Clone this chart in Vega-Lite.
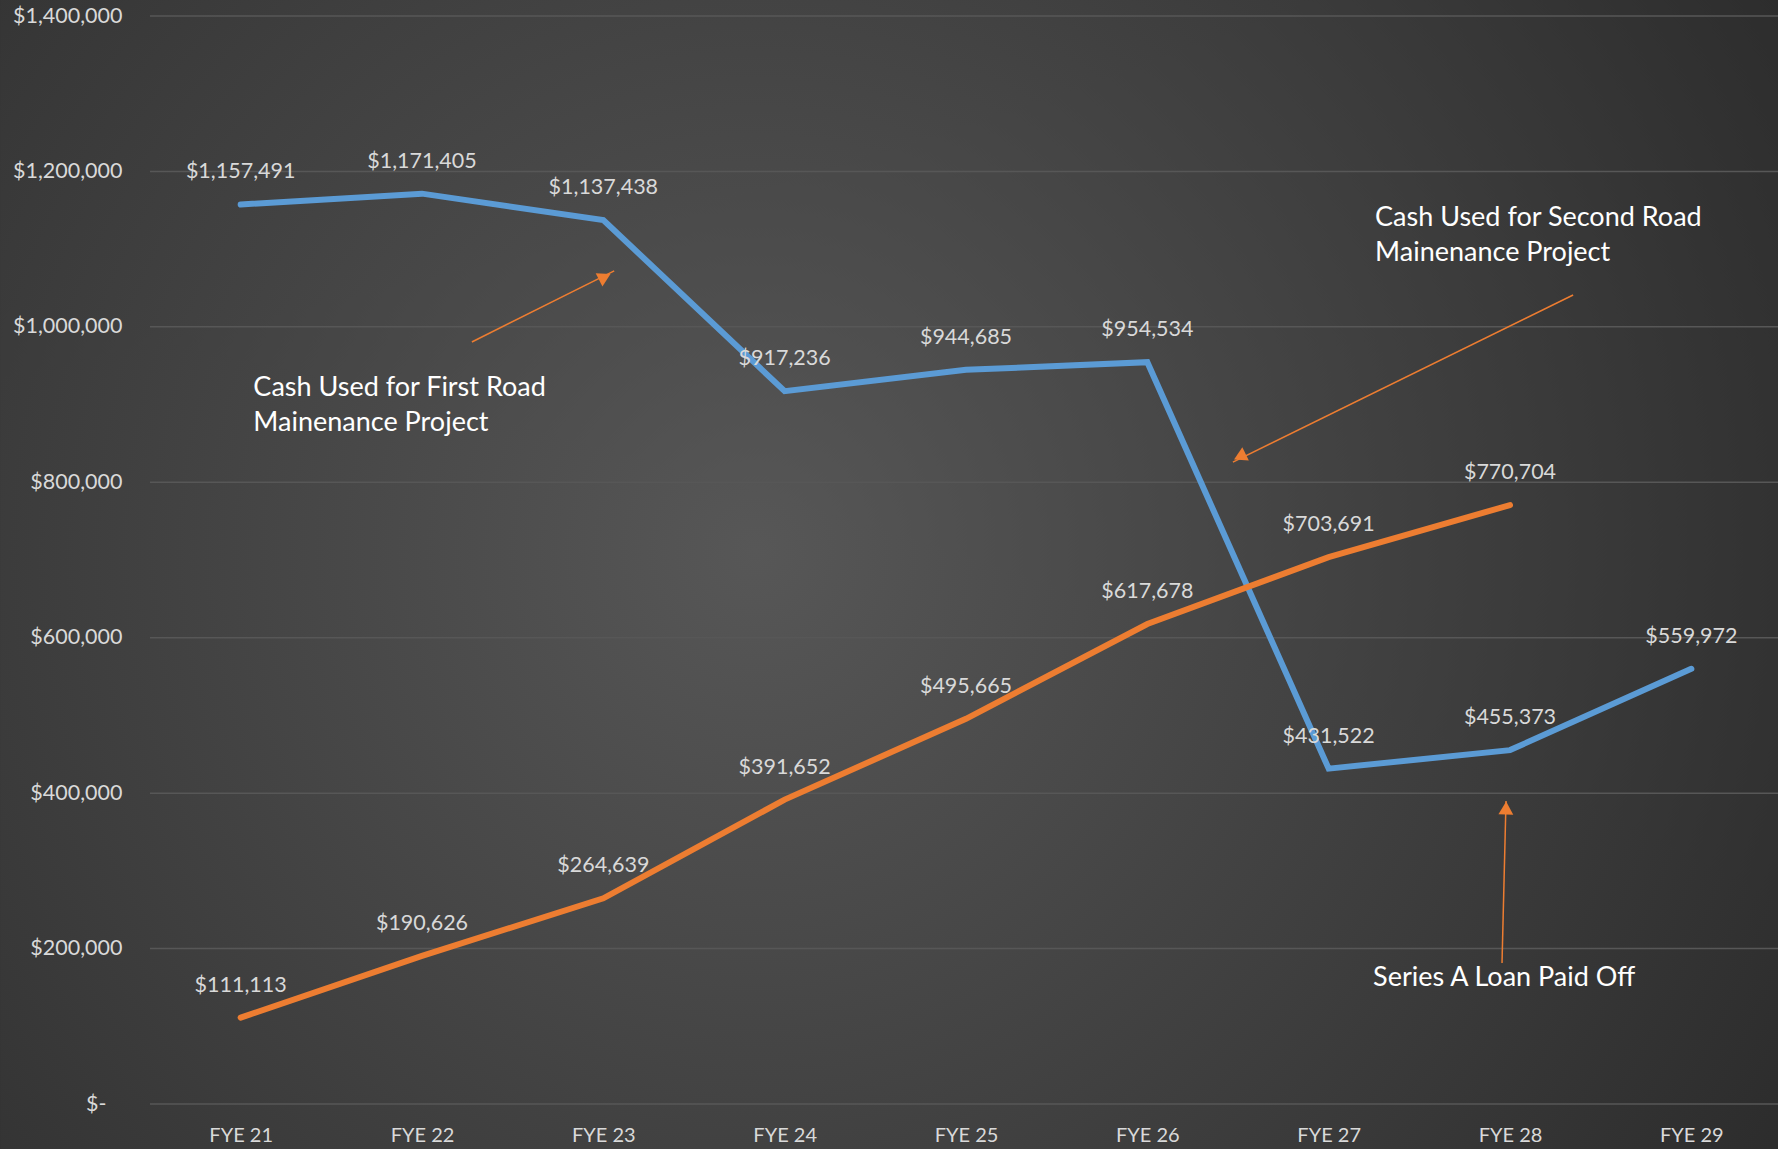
{
  "$schema": "https://vega.github.io/schema/vega-lite/v6.json",
  "width": 1632,
  "height": 1088,
  "autosize": {"type": "none"},
  "padding": {"left": 150, "top": 16, "right": 0, "bottom": 45},
  "background": "#282828",
  "config": {
    "view": {"stroke": null},
    "font": "Lato",
    "text": {"font": "Lato"}
  },
  "datasets": {
    "series": [
      {"fy": 21, "series": "Cash", "value": 1157491},
      {"fy": 22, "series": "Cash", "value": 1171405},
      {"fy": 23, "series": "Cash", "value": 1137438},
      {"fy": 24, "series": "Cash", "value": 917236},
      {"fy": 25, "series": "Cash", "value": 944685},
      {"fy": 26, "series": "Cash", "value": 954534},
      {"fy": 27, "series": "Cash", "value": 431522},
      {"fy": 28, "series": "Cash", "value": 455373},
      {"fy": 29, "series": "Cash", "value": 559972},
      {"fy": 21, "series": "Loan", "value": 111113},
      {"fy": 22, "series": "Loan", "value": 190626},
      {"fy": 23, "series": "Loan", "value": 264639},
      {"fy": 24, "series": "Loan", "value": 391652},
      {"fy": 25, "series": "Loan", "value": 495665},
      {"fy": 26, "series": "Loan", "value": 617678},
      {"fy": 27, "series": "Loan", "value": 703691},
      {"fy": 28, "series": "Loan", "value": 770704}
    ],
    "ticks": [
      {"value": 0}, {"value": 200000}, {"value": 400000}, {"value": 600000},
      {"value": 800000}, {"value": 1000000}, {"value": 1200000}, {"value": 1400000}
    ],
    "notes": [
      {"fy": 21.07, "value": 921310, "label": "Cash Used for First Road"},
      {"fy": 21.07, "value": 876270, "label": "Mainenance Project"},
      {"fy": 27.256, "value": 1140070, "label": "Cash Used for Second Road"},
      {"fy": 27.256, "value": 1095030, "label": "Mainenance Project"},
      {"fy": 27.245, "value": 162100, "label": "Series A Loan Paid Off"}
    ],
    "arrows": [
      {"fy": 22.275, "value": 980500, "fy2": 23.06, "value2": 1072000},
      {"fy": 28.348, "value": 1040980, "fy2": 26.472, "value2": 826000},
      {"fy": 27.956, "value": 181400, "fy2": 27.978, "value2": 389900}
    ],
    "heads": [
      {"arrow": "first", "fy": 23.008, "value": 1064150},
      {"arrow": "second", "fy": 26.51, "value": 833000},
      {"arrow": "loan", "fy": 27.978, "value": 380850}
    ],
    "backdrop": [
      {"fy": 19.673, "fy2": 29.52, "value": -58000, "value2": 1421000}
    ]
  },
  "layer": [
    {
      "data": {"name": "backdrop"},
      "mark": {
        "type": "rect",
        "fill": {
          "gradient": "radial",
          "x1": 0.423, "y1": 0.487, "r1": 0,
          "x2": 0.423, "y2": 0.487, "r2": 0.745,
          "stops": [
            {"offset": 0, "color": "#575757"},
            {"offset": 1, "color": "#272727"}
          ]
        }
      },
      "encoding": {
        "x": {"field": "fy", "type": "quantitative"},
        "x2": {"field": "fy2"},
        "y": {"field": "value", "type": "quantitative"},
        "y2": {"field": "value2"}
      }
    },
    {
      "data": {"name": "ticks"},
      "mark": {"type": "rule", "color": "#575757", "strokeWidth": 1.5},
      "encoding": {
        "y": {"field": "value", "type": "quantitative"}
      }
    },
    {
      "data": {"name": "series"},
      "mark": {"type": "line", "strokeWidth": 6, "strokeCap": "round", "strokeJoin": "miter"},
      "encoding": {
        "x": {
          "field": "fy", "type": "quantitative",
          "scale": {"domain": [20.5, 29.5], "nice": false, "zero": false},
          "axis": {
            "values": [21, 22, 23, 24, 25, 26, 27, 28, 29],
            "labelExpr": "'FYE ' + datum.value",
            "title": null, "grid": false, "domain": false, "ticks": false,
            "labelFontSize": 20, "labelColor": "#d9d9d9", "labelPadding": 21,
            "labelFont": "Lato", "zindex": 1
          }
        },
        "y": {
          "field": "value", "type": "quantitative",
          "scale": {"domain": [0, 1400000], "nice": false},
          "axis": {
            "values": [0, 200000, 400000, 600000, 800000, 1000000, 1200000, 1400000],
            "labelExpr": "datum.value == 0 ? '$-\u2800' : '$' + format(datum.value, ',')",
            "title": null, "domain": false, "ticks": false, "grid": false,
            "labelFontSize": 21.5, "labelColor": "#d9d9d9", "labelPadding": 28,
            "labelFont": "Lato", "zindex": 1
          }
        },
        "color": {
          "field": "series", "type": "nominal",
          "scale": {"domain": ["Cash", "Loan"], "range": ["#5B9BD5", "#ED7D31"]},
          "legend": null
        }
      }
    },
    {
      "data": {"name": "series"},
      "mark": {"type": "text", "dy": -32, "fontSize": 21.5, "color": "#d9d9d9", "baseline": "middle", "align": "center"},
      "encoding": {
        "x": {"field": "fy", "type": "quantitative"},
        "y": {"field": "value", "type": "quantitative"},
        "text": {"field": "value", "type": "quantitative", "format": "$,"}
      }
    },
    {
      "data": {"name": "arrows"},
      "mark": {"type": "rule", "color": "#ED7D31", "strokeWidth": 1.5},
      "encoding": {
        "x": {"field": "fy", "type": "quantitative"},
        "y": {"field": "value", "type": "quantitative"},
        "x2": {"field": "fy2"},
        "y2": {"field": "value2"}
      }
    },
    {
      "data": {"name": "heads"},
      "transform": [{"filter": "datum.arrow == 'first'"}],
      "mark": {"type": "point", "shape": "triangle-up", "filled": true, "color": "#ED7D31", "opacity": 1, "size": 220, "angle": 63},
      "encoding": {
        "x": {"field": "fy", "type": "quantitative"},
        "y": {"field": "value", "type": "quantitative"}
      }
    },
    {
      "data": {"name": "heads"},
      "transform": [{"filter": "datum.arrow == 'second'"}],
      "mark": {"type": "point", "shape": "triangle-up", "filled": true, "color": "#ED7D31", "opacity": 1, "size": 220, "angle": 244},
      "encoding": {
        "x": {"field": "fy", "type": "quantitative"},
        "y": {"field": "value", "type": "quantitative"}
      }
    },
    {
      "data": {"name": "heads"},
      "transform": [{"filter": "datum.arrow == 'loan'"}],
      "mark": {"type": "point", "shape": "triangle-up", "filled": true, "color": "#ED7D31", "opacity": 1, "size": 220, "angle": 1.5},
      "encoding": {
        "x": {"field": "fy", "type": "quantitative"},
        "y": {"field": "value", "type": "quantitative"}
      }
    },
    {
      "data": {"name": "notes"},
      "mark": {"type": "text", "fontSize": 27, "color": "#ffffff", "align": "left", "baseline": "middle"},
      "encoding": {
        "x": {"field": "fy", "type": "quantitative"},
        "y": {"field": "value", "type": "quantitative"},
        "text": {"field": "label"}
      }
    }
  ]
}
